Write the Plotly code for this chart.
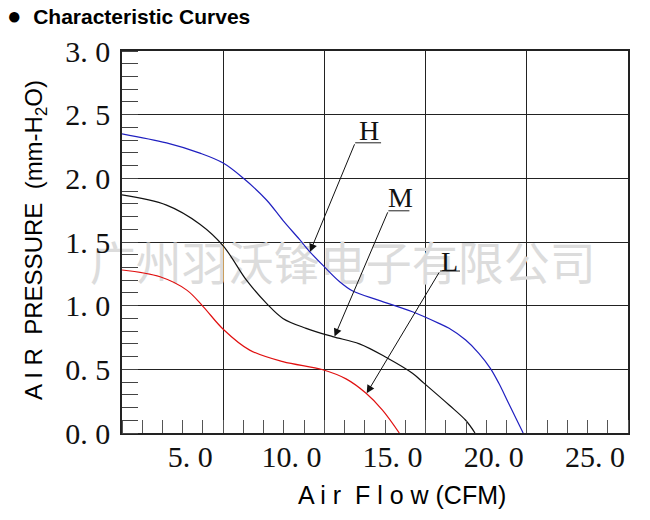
import plotly.graph_objects as go

# ---- data ----
h_x = [0.0, 2.2, 3.85, 5.0, 6.0, 7.14, 7.95, 8.77, 9.27, 10.0, 10.74, 11.4, 12.7, 14.35, 15.66, 16.16, 16.98, 17.63, 18.2, 18.62, 19.1, 19.82]
h_y = [2.35, 2.278, 2.198, 2.12, 2.0, 1.83, 1.67, 1.52, 1.425, 1.305, 1.19, 1.115, 1.042, 0.952, 0.861, 0.822, 0.73, 0.626, 0.508, 0.39, 0.233, 0.0]

m_x = [0.0, 2.2, 3.85, 5.0, 6.15, 7.14, 7.95, 9.1, 10.41, 11.73, 13.04, 14.35, 14.93, 16.16, 16.98, 17.44]
m_y = [1.87, 1.79, 1.64, 1.47, 1.20, 1.018, 0.90, 0.822, 0.757, 0.700, 0.595, 0.469, 0.39, 0.22, 0.10, 0.0]

l_x = [0.0, 1.88, 3.2, 4.02, 5.0, 6.31, 7.95, 9.92, 11.07, 12.06, 12.87, 13.70]
l_y = [1.28, 1.227, 1.122, 0.991, 0.815, 0.651, 0.56, 0.497, 0.425, 0.312, 0.18, 0.0]

x_ticks = [5, 10, 15, 20, 25]
x_labels = ["5. 0", "10. 0", "15. 0", "20. 0", "25. 0"]
y_ticks = [0, 0.5, 1.0, 1.5, 2.0, 2.5, 3.0]
y_labels = ["0. 0", "0. 5", "1. 0", "1. 5", "2. 0", "2. 5", "3. 0"]

# curve labels: name, text pos, underline start/end, arrow tip
lab_names = ["H", "M", "L"]
lab_text_x = [12.21, 13.74, 16.2]
lab_text_y = [2.378, 1.852, 1.35]
lab_line_x0 = [11.52, 13.16, 15.71]
lab_line_x1 = [12.80, 14.20, 16.70]
lab_line_y = [2.279, 1.745, 1.272]
lab_tip_x = [9.29, 10.50, 12.09]
lab_tip_y = [1.423, 0.757, 0.312]

watermark = "广州羽沃锋电子有限公司"

fig = go.Figure()

fig.add_trace(go.Scatter(x=[10.9], y=[1.29], mode="text", text=[watermark],
                         textfont=dict(family="Noto Sans CJK SC", size=46, color="#dcdcdc"),
                         cliponaxis=False, hoverinfo="skip", showlegend=False))

for xs, ys, col in [(h_x, h_y, "#2020c0"), (m_x, m_y, "#111111"), (l_x, l_y, "#e01010")]:
    fig.add_trace(go.Scatter(x=xs, y=ys, mode="lines", line=dict(color=col, width=1.2, shape="spline", smoothing=1.0),
                             showlegend=False, hoverinfo="skip"))

shapes = []
annotations = []
for i, n in enumerate(lab_names):
    annotations.append(dict(x=lab_text_x[i], y=lab_text_y[i], xref="x", yref="y", text=n, showarrow=False,
                            font=dict(family="Liberation Serif", size=28, color="#111")))
    shapes.append(dict(type="line", xref="x", yref="y", x0=lab_line_x0[i], x1=lab_line_x1[i],
                       y0=lab_line_y[i], y1=lab_line_y[i], line=dict(color="#222", width=1)))
    annotations.append(dict(x=lab_tip_x[i], y=lab_tip_y[i], xref="x", yref="y", ax=lab_line_x0[i], ay=lab_line_y[i],
                            axref="x", ayref="y", text="", showarrow=True, arrowhead=2, arrowsize=1.6,
                            arrowwidth=1, arrowcolor="#111", standoff=0, startstandoff=0))

annotations.append(dict(xref="paper", yref="paper", x=0, y=1, xanchor="left", yanchor="middle",
                        xshift=-117, yshift=36, showarrow=False,
                        text="<b><span style='font-size:24px'>●</span>  Characteristic Curves</b>",
                        font=dict(family="Liberation Sans", size=21, color="#000")))
annotations.append(dict(xref="paper", yref="paper", x=0, y=0.505, xanchor="center", yanchor="middle",
                        xshift=-87, textangle=-90, showarrow=False,
                        text="A I R  PRESSURE  (mm-H<sub>2</sub>O)",
                        font=dict(family="Liberation Sans", size=24, color="#000")))
annotations.append(dict(xref="paper", yref="paper", x=0.553, y=0, xanchor="center", yanchor="middle",
                        yshift=-62, showarrow=False,
                        text="A i r  F l o w (CFM)",
                        font=dict(family="Liberation Sans", size=25, color="#000")))

fig.update_layout(
    width=650, height=520, margin=dict(l=122, r=22, t=51, b=87),
    paper_bgcolor="white", plot_bgcolor="white",
    shapes=shapes, annotations=annotations,
    xaxis=dict(range=[0, 25], tickvals=x_ticks, ticktext=x_labels, ticks="", showgrid=True,
               gridcolor="#222", gridwidth=1, showline=True, linecolor="#222", linewidth=1.5, mirror=True,
               zeroline=False, ticklabelshift=-33, ticklabelstandoff=-4,
               tickfont=dict(family="Liberation Serif", size=30, color="#111"),
               minor=dict(dtick=1, ticks="inside", ticklen=13, tickcolor="#555", tickwidth=1.2, showgrid=False)),
    yaxis=dict(range=[0, 3], tickvals=y_ticks, ticktext=y_labels, ticks="", showgrid=True,
               gridcolor="#222", gridwidth=1, showline=True, linecolor="#222", linewidth=1.5, mirror=True,
               zeroline=False, ticklabelstandoff=4,
               tickfont=dict(family="Liberation Serif", size=30, color="#111"),
               minor=dict(dtick=0.1, ticks="inside", ticklen=16, tickcolor="#444", tickwidth=1.2, showgrid=False)),
)

fig.write_html("out.html")
